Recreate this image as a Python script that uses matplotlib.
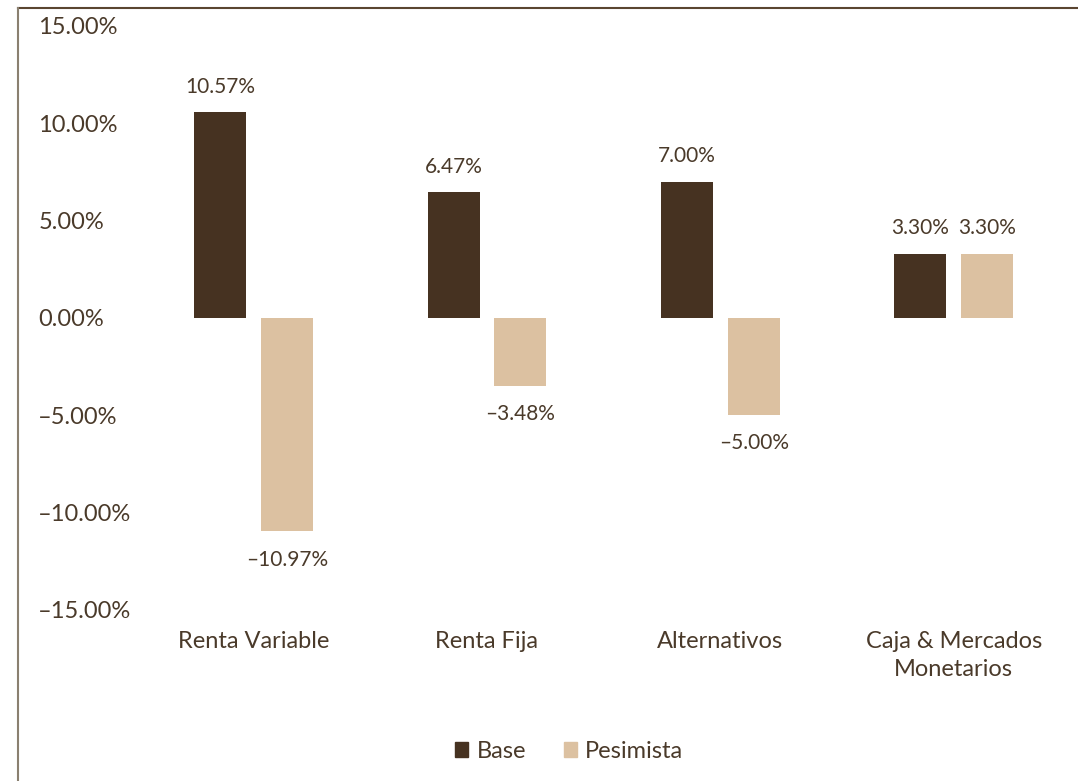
import matplotlib
matplotlib.use("Agg")
import matplotlib.pyplot as plt
from matplotlib.lines import Line2D
from matplotlib.patches import Patch
import numpy as np

plt.rcParams['font.family'] = ['Lato', 'DejaVu Sans']

categories = ["Renta Variable", "Renta Fija", "Alternativos", "Caja & Mercados\nMonetarios"]
base = [10.57, 6.47, 7.00, 3.30]
pesimista = [-10.97, -3.48, -5.00, 3.30]
yticks = [-15, -10, -5, 0, 5, 10, 15]

c_base = "#463221"
c_pes = "#dcc1a1"
c_text = "#4a3a2a"


def fmt(v):
    s = "%.2f%%" % abs(v)
    return ("–" + s) if v < 0 else s


fig = plt.figure(figsize=(10.78, 7.81), dpi=100)
ax = fig.add_axes([0.127, 0.219, 0.866, 0.748])

x = np.arange(len(categories))
w = 0.223
off = 0.143
b1 = ax.bar(x - off, base, w, color=c_base)
b2 = ax.bar(x + off, pesimista, w, color=c_pes)

# etiquetas de valores
for xs, vals in ((x - off, base), (x + off, pesimista)):
    for xi, v in zip(xs, vals):
        if v >= 0:
            ax.annotate(fmt(v), (xi, v), xytext=(0, 11), textcoords="offset points",
                        ha="center", va="bottom", fontsize=15, color=c_text)
        else:
            ax.annotate(fmt(v), (xi, v), xytext=(0, -13), textcoords="offset points",
                        ha="center", va="top", fontsize=15, color=c_text)

ax.set_xlim(-0.5, 3.5)
ax.set_ylim(-15, 15)
ax.set_yticks(yticks)
ax.set_yticklabels([fmt(v) for v in yticks], fontsize=17, color=c_text, ha="left")
ax.tick_params(axis="y", length=0, pad=71)
ax.set_xticks(x)
ax.set_xticklabels(categories, fontsize=17, color=c_text, linespacing=1.4, va="top")
ax.tick_params(axis="x", length=0, pad=15)
for s in ax.spines.values():
    s.set_visible(False)

# marco
fig.add_artist(Line2D([18 / 1078, 1], [1 - 8 / 781, 1 - 8 / 781], color="#5a4530", linewidth=1.5))
fig.add_artist(Line2D([18 / 1078, 18 / 1078], [0, 1 - 8 / 781], color="#8a8070", linewidth=1.5))

handles = [Patch(color=c_base, label="Base"), Patch(color=c_pes, label="Pesimista")]
leg = fig.legend(handles=handles, loc="center", bbox_to_anchor=(0.528, 0.038), ncol=2, frameon=False,
                 fontsize=17, handlelength=0.55, handleheight=0.55, handletextpad=0.35, columnspacing=1.6)
for t in leg.get_texts():
    t.set_color(c_text)

plt.savefig("out.png", dpi=100)
